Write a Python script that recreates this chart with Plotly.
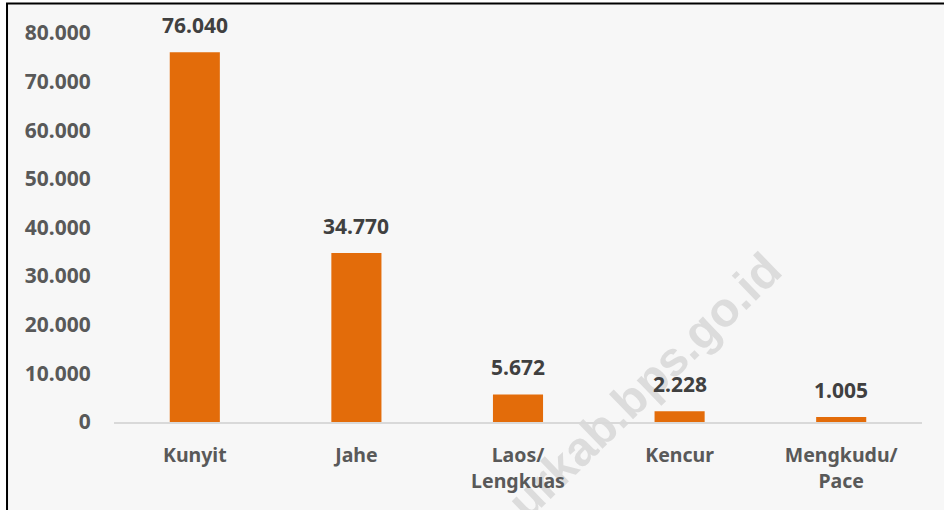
import plotly.graph_objects as go

categories = ["Kunyit", "Jahe", "Laos/<br>Lengkuas", "Kencur", "Mengkudu/<br>Pace"]
values = [76040, 34770, 5672, 2228, 1005]
tick_vals = [0, 10000, 20000, 30000, 40000, 50000, 60000, 70000, 80000]
tick_text = ["0", "10.000", "20.000", "30.000", "40.000", "50.000", "60.000", "70.000", "80.000"]

def fmt(v):
    return f"{v:,}".replace(",", ".")

fig = go.Figure()
fig.add_trace(go.Bar(
    x=categories, y=values,
    marker=dict(color="#E36C0A", line=dict(width=0)),
    width=0.31,
    hoverinfo="skip",
))

annotations = []
for c, v in zip(categories, values):
    annotations.append(dict(
        x=c, y=v, xref="x", yref="y", text="<b>" + fmt(v) + "</b>",
        showarrow=False, yanchor="bottom", yshift=11,
        font=dict(family="Noto Sans", size=21, color="#404040"),
    ))

fig.update_layout(
    width=944, height=510,
    margin=dict(l=114, r=22, t=33, b=88),
    paper_bgcolor="white",
    plot_bgcolor="rgba(0,0,0,0)",
    showlegend=False,
    bargap=0.69,
    separators=",.",
    annotations=annotations,
    shapes=[
        dict(
            type="rect", xref="paper", yref="paper",
            x0=-0.1324, x1=1.06, y0=-0.4, y1=1.0758,
            fillcolor="#F7F7F7", line=dict(color="black", width=2),
            layer="below",
        ),
        dict(
            type="rect", xref="paper", yref="paper",
            x0=0.602, x1=0.702, y0=0.053, y1=0.153,
            fillcolor="rgba(0,0,0,0)", line=dict(width=0),
            layer="below",
            label=dict(
                text="urkab.bps.go.id", textangle=-44,
                textposition="middle center",
                font=dict(family="Liberation Sans", size=48, color="#DCDCDC", weight="bold"),
            ),
        ),
    ],
    xaxis=dict(
        showgrid=False, zeroline=False, showline=True,
        linecolor="#D9D9D9", linewidth=1.5,
        tickfont=dict(family="Noto Sans", size=19.5, color="#595959", weight="bold"),
        ticks="outside", ticklen=15, tickcolor="rgba(0,0,0,0)",
    ),
    yaxis=dict(
        range=[0, 80000], showgrid=False, zeroline=False, showline=False,
        tickvals=tick_vals, ticktext=tick_text,
        tickfont=dict(family="Noto Sans", size=21, color="#595959", weight="bold"),
        ticks="outside", ticklen=18, tickcolor="rgba(0,0,0,0)",
    ),
)

fig.write_html(
    "out.html",
    config={"displayModeBar": False},
    post_script="document.body.style.margin='0';document.body.style.overflow='hidden';",
)
